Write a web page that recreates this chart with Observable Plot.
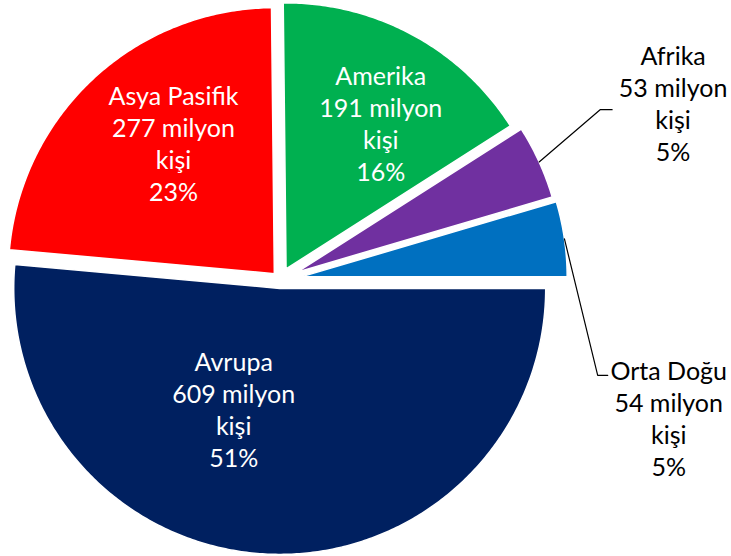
<!DOCTYPE html>
<html><head><meta charset="utf-8">
<script src="https://cdn.jsdelivr.net/npm/d3@7"></script>
<script src="https://cdn.jsdelivr.net/npm/@observablehq/plot@0.6"></script>
<style>html,body{margin:0;padding:0;background:#fff}</style>
</head><body><div id="chart"></div>
<script>
// ---- data ----
const regions = ["Avrupa", "Asya Pasifik", "Amerika", "Afrika", "Orta Doğu"];
const population = [609, 277, 191, 53, 54];          // milyon kişi
const shareLabels = ["51%", "23%", "16%", "5%", "5%"];
const unitLabel = "milyon";
const personLabel = "kişi";

// ---- style / layout ----
const colors = ["#002060", "#FF0000", "#00B050", "#7030A0", "#0070C0"];
const W = 731, H = 556, CX = 279.6, CY = 279.4, R = 266;
const explode = [0.032, 0.032, 0.047, 0.07, 0.08];
const labelPolar = [[249, 0.483], [127.7, 0.62], [57, 0.654], [24.2, 1.55], [-21, 1.48]];
const outside = [false, false, false, true, true];
const leaderPx = [null, null, null, [[-73, 6.5], [-61, 6.5]], [[-71, -42.5], [-61, -42.5]]];

const arcs = d3.pie().sort(null).value(d => d)
  .startAngle(Math.PI / 2).endAngle(Math.PI / 2 + 2 * Math.PI)(population);

const slices = [], labels = [], leaders = [];
arcs.forEach((a, i) => {
  const mid = (a.startAngle + a.endAngle) / 2;
  const ox = explode[i] * Math.sin(mid), oy = explode[i] * Math.cos(mid);
  const n = Math.max(8, Math.ceil((a.endAngle - a.startAngle) / 0.01));
  slices.push({region: regions[i], x: ox, y: oy});
  for (let k = 0; k <= n; k++) {
    const t = a.startAngle + (a.endAngle - a.startAngle) * k / n;
    slices.push({region: regions[i], x: ox + Math.sin(t), y: oy + Math.cos(t)});
  }
  slices.push({region: regions[i], x: ox, y: oy});
  const [deg, r] = labelPolar[i];
  const th = deg * Math.PI / 180;
  const lx = ox + r * Math.cos(th), ly = oy + r * Math.sin(th);
  labels.push({region: regions[i], x: lx, y: ly, outside: outside[i],
    text: `${regions[i]}\n${population[i]} ${unitLabel}\n${personLabel}\n${shareLabels[i]}`});
  if (leaderPx[i]) {
    leaders.push({id: regions[i], x: ox + Math.sin(mid), y: oy + Math.cos(mid)});
    for (const [dx, dy] of leaderPx[i]) leaders.push({id: regions[i], x: lx + dx / R, y: ly - dy / R});
  }
});

const chart = Plot.plot({
  width: W, height: H, margin: 0,
  x: {domain: [-CX / R, (W - CX) / R], axis: null},
  y: {domain: [-(H - CY) / R, CY / R], axis: null},
  color: {domain: regions, range: colors},
  style: {fontFamily: "Lato, sans-serif", background: "white"},
  marks: [
    Plot.line(slices, {x: "x", y: "y", z: "region", fill: "region", stroke: "white", strokeWidth: 1.5, curve: "linear"}),
    Plot.line(leaders, {x: "x", y: "y", z: "id", stroke: "black", strokeWidth: 1.2}),
    Plot.text(labels.filter(d => !d.outside), {x: "x", y: "y", text: "text", fill: "white", fontSize: 25, lineHeight: 1.28}),
    Plot.text(labels.filter(d => d.outside), {x: "x", y: "y", text: "text", fill: "black", fontSize: 25, lineHeight: 1.28})
  ]
});
document.getElementById("chart").appendChild(chart);
</script>
</body></html>
